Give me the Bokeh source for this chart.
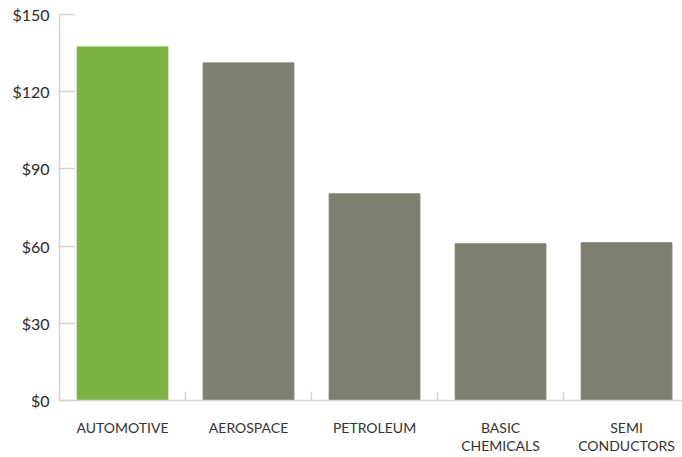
from bokeh.plotting import figure
from bokeh.models import Range1d, FixedTicker, NumeralTickFormatter, ColumnDataSource
from bokeh.embed import file_html
from bokeh.resources import INLINE

# Spend per industry (USD)
categories = ["AUTOMOTIVE", "AEROSPACE", "PETROLEUM", "BASIC\nCHEMICALS", "SEMI\nCONDUCTORS"]
values = [137.4, 131.2, 80.3, 60.9, 61.3]
bar_colors = ["#7cb342", "#807e71", "#807e71", "#807e71", "#807e71"]
y_ticks = [0, 30, 60, 90, 120, 150]

positions = [i + 0.5 for i in range(len(categories))]
source = ColumnDataSource(dict(x=positions, top=values, color=bar_colors))

p = figure(width=682, height=457, output_backend="svg", toolbar_location=None,
           x_range=Range1d(0, 4.944), y_range=Range1d(0, 150),
           min_border_left=59, min_border_right=0, min_border_top=14, min_border_bottom=56)
p.outline_line_color = None
p.xgrid.grid_line_color = None
p.ygrid.grid_line_color = None
p.background_fill_color = "white"
p.border_fill_color = "white"

p.vbar(x="x", top="top", width=0.72, bottom=0, color="color", source=source)

axis_color = "#d6d2ce"
font = "Lato"

xa = p.xaxis[0]
xa.ticker = FixedTicker(ticks=positions, minor_ticks=[1, 2, 3, 4])
xa.major_label_overrides = {pos: name for pos, name in zip(positions, categories)}
xa.major_tick_line_color = None
xa.minor_tick_in = 9
xa.minor_tick_out = 0
xa.minor_tick_line_color = axis_color
xa.minor_tick_line_width = 1.5
xa.axis_line_color = axis_color
xa.axis_line_width = 1.5
xa.major_label_standoff = 12
xa.major_label_text_font = font
xa.major_label_text_font_size = "14px"
xa.major_label_text_color = "#333333"
xa.major_label_text_line_height = 1.1

ya = p.yaxis[0]
ya.ticker = FixedTicker(ticks=y_ticks)
ya.formatter = NumeralTickFormatter(format="$0")
ya.major_tick_in = 15
ya.major_tick_out = 0
ya.minor_tick_line_color = None
ya.major_tick_line_color = axis_color
ya.major_tick_line_width = 1.5
ya.axis_line_color = axis_color
ya.axis_line_width = 1.5
ya.major_label_standoff = 10
ya.major_label_text_font = font
ya.major_label_text_font_size = "16px"
ya.major_label_text_color = "#2a2a2a"

open("out.html", "w").write(file_html(p, INLINE))
